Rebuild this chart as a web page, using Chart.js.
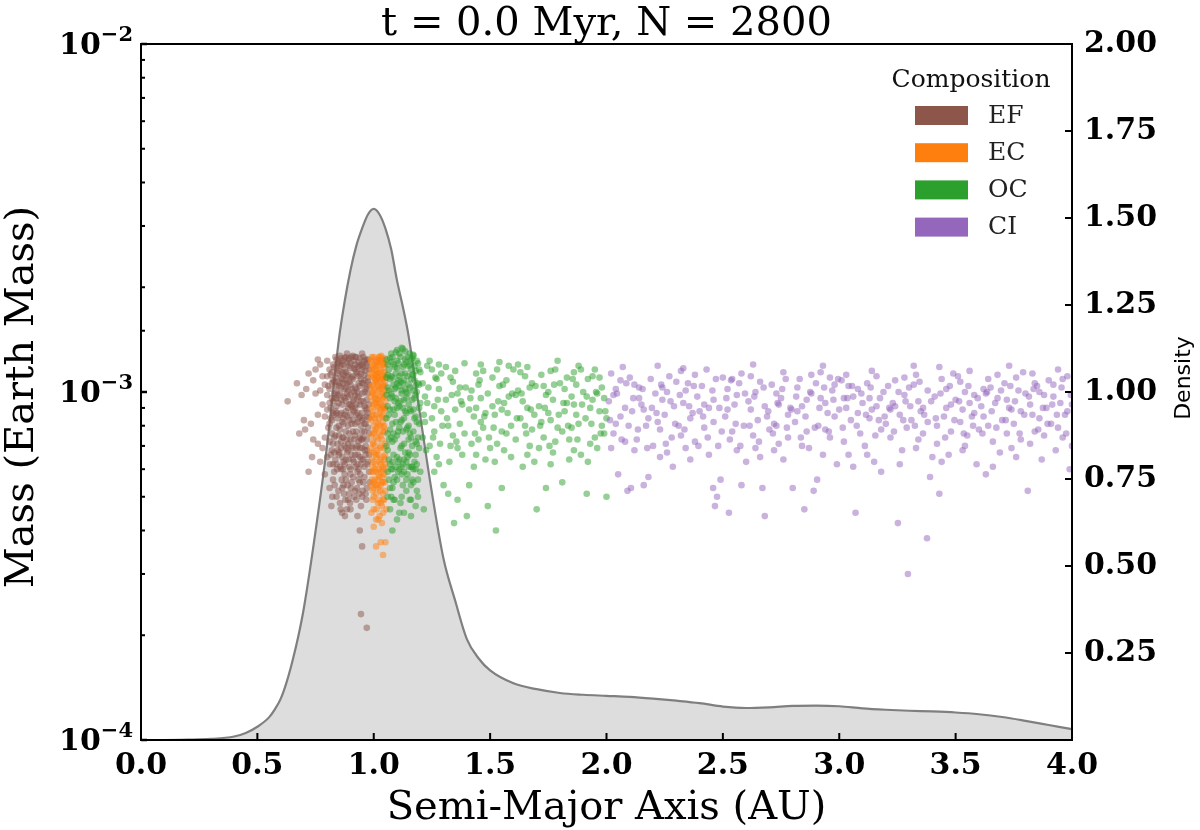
<!DOCTYPE html>
<html>
<head>
<meta charset="utf-8">
<title>t = 0.0 Myr, N = 2800</title>
<script src="https://cdn.jsdelivr.net/npm/chart.js@4.4.1/dist/chart.umd.min.js"></script>
<style>
  html, body { margin: 0; padding: 0; background: #fff; }
  #wrap { width: 1200px; height: 830px; }
</style>
</head>
<body>
<div id="wrap"><canvas id="massChart"></canvas></div>
<script>
// scatter pairs: semi-major axis (AU), mass (in units of 1e-4 Earth mass)
const MASS_UNIT = 1e-4;

const efPoints = [
  0.81,10.2, 0.84,9.1, 0.88,11.4, 0.93,8.7, 0.96,10.8, 0.82,7.6, 0.86,6.9, 0.90,9.8, 0.95,7.3, 0.97,11.9,
  0.83,11.8, 0.87,8.4, 0.91,10.9, 0.94,6.5, 0.80,8.9, 0.85,12.2, 0.89,7.1, 0.92,12.0, 0.98,9.2, 0.84,6.2,
  0.87,10.6, 0.90,6.0, 0.93,11.3, 0.96,8.1, 0.82,9.6, 0.86,11.0, 0.88,8.8, 0.91,7.7, 0.95,9.9, 0.97,6.8,
  0.81,7.2, 0.85,8.0, 0.89,10.1, 0.92,9.0, 0.94,10.4, 0.98,7.6, 0.83,10.7, 0.87,7.4, 0.90,11.7, 0.96,12.3,
  0.80,11.1, 0.84,10.0, 0.88,6.4, 0.91,8.3, 0.93,7.0, 0.95,11.6, 0.97,8.9, 0.82,8.3, 0.86,9.5, 0.89,12.4,
  0.92,10.3, 0.94,8.5, 0.96,6.1, 0.98,10.5, 0.83,6.7, 0.85,11.5, 0.88,9.4, 0.90,8.6, 0.93,9.6, 0.95,6.9,
  0.81,9.3, 0.84,7.9, 0.87,12.0, 0.91,11.1, 0.94,11.9, 0.97,9.5, 0.83,8.6, 0.86,7.2, 0.89,9.0, 0.92,6.6,
  0.95,8.3, 0.98,6.6, 0.80,9.8, 0.85,10.4, 0.88,10.8, 0.90,7.3, 0.93,10.0, 0.96,9.1, 0.82,11.4, 0.87,9.7,
  0.89,8.0, 0.92,8.1, 0.94,7.4, 0.97,10.3, 0.84,11.7, 0.86,8.7, 0.91,9.4, 0.95,10.6, 0.83,9.9, 0.88,7.7,
  0.90,10.5, 0.93,8.2, 0.96,7.7, 0.98,8.4, 0.81,8.1, 0.85,6.6, 0.87,6.3, 0.89,11.2, 0.92,11.6, 0.94,9.2,
  0.97,7.3, 0.82,10.6, 0.86,10.3, 0.90,12.1, 0.93,6.2, 0.95,8.7, 0.84,8.7, 0.88,12.6, 0.91,6.4, 0.96,11.2,
  0.85,9.3, 0.87,11.2, 0.89,6.8, 0.92,7.5, 0.94,12.5, 0.97,12.1, 0.83,7.4, 0.86,12.0, 0.90,9.2, 0.93,11.8,
  0.95,7.7, 0.98,11.6, 0.81,11.6, 0.84,9.6, 0.88,10.3, 0.91,8.9, 0.94,6.9, 0.96,10.0, 0.82,6.8, 0.87,8.1,
  0.89,9.7, 0.92,9.8, 0.95,12.0, 0.97,8.5, 0.85,7.5, 0.86,6.0, 0.90,5.8, 0.93,5.9, 0.96,5.7, 0.88,5.6,
  0.91,12.7, 0.84,12.4, 0.94,5.5, 0.98,5.9, 0.83,5.9, 0.87,5.4, 0.92,5.2, 0.95,5.0, 0.89,4.9, 0.97,5.3,
  0.815,9.0, 0.835,10.4, 0.855,7.8, 0.875,11.6, 0.895,8.3, 0.915,10.0, 0.935,7.2, 0.955,9.4, 0.975,11.0, 0.825,12.0,
  0.845,8.4, 0.865,10.9, 0.885,6.7, 0.905,9.1, 0.925,11.4, 0.945,8.0, 0.965,6.6, 0.805,7.9, 0.835,6.4, 0.855,11.9,
  0.875,9.6, 0.895,10.7, 0.915,6.3, 0.935,12.2, 0.955,10.6, 0.975,7.9, 0.825,9.4, 0.845,11.3, 0.865,8.2, 0.885,12.1,
  0.905,7.0, 0.925,8.6, 0.945,10.9, 0.965,9.0, 0.815,11.2, 0.835,8.8, 0.855,9.9, 0.875,7.0, 0.895,11.9, 0.915,8.8,
  0.935,9.7, 0.955,6.4, 0.975,9.9, 0.825,7.1, 0.845,6.8, 0.865,12.3, 0.885,9.9, 0.905,11.0, 0.925,6.9, 0.945,12.0,
  0.965,11.5, 0.805,10.4, 0.835,12.6, 0.855,6.1, 0.875,8.6, 0.895,7.6, 0.915,12.3, 0.935,10.6, 0.955,8.4, 0.975,6.3,
  0.825,10.8, 0.845,9.8, 0.865,7.4, 0.885,10.6, 0.905,8.1, 0.925,10.2, 0.945,7.3, 0.965,8.1, 0.815,6.6, 0.835,7.5,
  0.855,10.6, 0.875,12.5, 0.895,9.2, 0.915,9.5, 0.935,8.4, 0.955,11.8, 0.975,8.7, 0.825,8.7, 0.845,12.1, 0.865,9.2,
  0.885,7.3, 0.905,10.2, 0.925,12.6, 0.945,9.4, 0.965,12.4, 0.815,8.4, 0.835,11.0, 0.855,8.6, 0.875,6.2, 0.895,12.5,
  0.915,7.3, 0.935,11.1, 0.955,7.4, 0.975,12.4, 0.845,7.1, 0.865,11.4, 0.885,8.5, 0.905,6.6, 0.925,7.7, 0.945,6.2,
  0.965,10.2, 0.825,6.2, 0.855,12.7, 0.875,10.2, 0.895,6.1, 0.915,11.7, 0.935,6.0, 0.955,12.6, 0.975,10.7, 0.835,9.6,
  0.865,6.5, 0.885,11.1, 0.905,12.6, 0.925,9.2, 0.945,11.3, 0.965,7.0, 0.845,10.7, 0.875,5.8, 0.905,5.5, 0.935,5.6,
  0.955,5.5, 0.865,5.3, 0.895,5.1, 0.925,4.9, 0.855,4.8, 0.915,5.0, 0.945,4.7, 0.885,4.6, 0.965,5.1, 0.825,5.6,
  0.812,6.2, 0.832,5.4, 0.852,6.7, 0.872,5.1, 0.892,6.4, 0.912,5.7, 0.932,6.6, 0.952,5.2, 0.972,6.2, 0.822,5.0,
  0.842,6.0, 0.862,5.6, 0.882,6.9, 0.902,5.3, 0.922,6.1, 0.942,5.8, 0.962,6.8, 0.982,5.5, 0.818,4.7, 0.858,4.6,
  0.898,4.8, 0.938,5.1, 0.868,6.0, 0.908,6.9, 0.948,6.4, 0.888,5.4, 0.928,5.3, 0.968,4.9, 0.848,5.2, 0.878,4.9,
  0.63,9.4, 0.67,10.6, 0.70,8.3, 0.72,11.3, 0.705,7.8, 0.735,6.5, 0.77,6.3, 0.72,5.9, 0.78,11.1, 0.75,9.9,
  0.76,8.6, 0.74,10.8, 0.79,7.4, 0.78,9.2, 0.77,12.0, 0.73,8.1, 0.79,10.5, 0.76,7.1, 0.69,9.8, 0.71,10.2,
  0.78,6.9, 0.80,12.3, 0.79,5.8, 0.74,7.3, 0.77,10.1, 0.75,11.6, 0.80,6.5, 0.68,7.6, 0.76,12.4, 0.79,8.5,
  0.864,4.5, 0.876,4.4, 0.93,4.4, 0.94,4.0, 0.95,3.6, 0.945,2.3, 0.97,2.1, 0.90,4.6, 0.84,5.0, 0.81,5.3,
  0.885,12.9, 0.92,12.6, 0.86,12.5, 0.95,12.9
];

const ecPoints = [
  0.99,10.4, 1.01,8.2, 1.03,11.6, 1.05,7.1, 1.00,6.3, 1.02,9.5, 1.04,12.0, 0.995,8.8, 1.015,6.8, 1.035,9.9,
  1.045,5.8, 1.005,11.2, 1.025,7.6, 0.99,12.2, 1.01,10.7, 1.03,6.4, 1.05,10.1, 1.00,8.0, 1.02,11.9, 1.04,8.6,
  0.995,6.1, 1.015,9.1, 1.035,7.3, 1.045,11.4, 1.005,9.6, 1.025,12.4, 0.99,7.5, 1.01,5.9, 1.03,8.9, 1.05,8.4,
  1.00,11.0, 1.02,6.6, 1.04,10.5, 0.995,10.0, 1.015,12.0, 1.035,11.1, 1.045,6.9, 1.005,7.0, 1.025,9.3, 0.99,9.0,
  1.01,11.5, 1.03,10.3, 1.05,9.4, 1.00,12.6, 1.02,8.1, 1.04,7.7, 0.995,11.8, 1.015,7.9, 1.035,6.0, 1.045,9.7,
  1.005,5.6, 1.025,10.8, 0.99,6.7, 1.01,9.8, 1.03,12.2, 1.05,6.2, 1.00,9.2, 1.02,10.2, 1.04,5.5, 0.995,7.2,
  1.015,10.6, 1.035,8.5, 1.045,12.1, 1.005,10.9, 1.025,6.3, 0.99,11.3, 1.01,7.4, 1.03,7.0, 1.05,11.0, 1.00,7.6,
  1.02,11.4, 1.04,9.0, 0.995,9.4, 1.015,11.3, 1.035,10.4, 1.045,8.0, 1.005,8.4, 1.025,8.7, 1.01,12.4, 1.02,5.3,
  0.988,9.7, 1.008,11.9, 1.028,8.0, 1.048,10.7, 0.998,7.1, 1.018,12.3, 1.038,9.6, 0.992,11.6, 1.012,6.5, 1.032,10.9,
  1.042,7.9, 1.002,10.2, 1.022,6.0, 1.047,12.5, 0.988,8.3, 1.008,7.8, 1.028,11.3, 1.048,6.6, 0.998,12.0, 1.018,9.0,
  1.038,5.7, 0.992,6.4, 1.012,8.6, 1.032,12.7, 1.042,10.0, 1.002,6.7, 1.022,11.0, 1.047,8.9, 0.988,11.1, 1.008,9.3,
  1.028,6.9, 1.048,12.0, 0.998,10.5, 1.018,7.3, 1.038,8.2, 0.992,8.5, 1.012,12.2, 1.032,7.5, 1.042,11.7, 1.002,9.8,
  1.022,8.4, 1.047,6.4, 0.988,6.9, 1.008,10.8, 1.028,9.7, 1.048,9.0, 0.998,5.9, 1.018,10.4, 1.038,12.4, 0.992,10.1,
  1.012,11.1, 1.032,5.9, 1.042,6.5, 1.002,11.6, 1.022,12.6, 1.047,10.4, 0.988,12.4, 1.008,6.2, 1.028,12.6, 1.048,7.7,
  0.998,8.6, 1.018,5.6, 1.038,10.9, 0.992,12.6, 1.012,9.5, 1.032,9.2, 1.042,9.1, 1.002,7.7, 1.022,10.1, 1.047,11.2,
  1.008,5.4, 1.028,5.2, 0.998,5.3, 1.038,5.1, 1.018,4.8, 1.048,5.5, 0.992,5.6, 1.025,4.4, 1.012,4.6, 1.035,4.2,
  0.99,5.9, 1.00,5.5, 1.01,5.1, 1.02,5.8, 1.03,4.8, 1.04,6.1, 1.05,5.2, 0.995,4.9, 1.005,6.0, 1.015,5.4,
  1.025,5.7, 1.035,5.5, 1.045,4.9, 1.03,6.2, 1.01,6.6, 1.00,4.6, 1.02,4.3, 1.04,4.5, 0.99,5.4, 1.05,6.0,
  1.00,5.0, 1.03,5.4, 1.04,4.9, 0.99,4.5, 1.00,4.1, 1.01,4.3, 1.03,3.7, 1.05,3.7, 1.01,3.6, 1.04,3.4,
  1.055,4.6, 1.02,4.9, 1.035,4.7, 0.995,5.2
];

const ocPoints = [
  1.06,10.3, 1.08,8.1, 1.10,11.7, 1.12,7.0, 1.14,9.6, 1.16,12.4, 1.18,8.5, 1.07,6.2, 1.09,9.4, 1.11,12.9,
  1.13,10.8, 1.15,6.7, 1.17,10.1, 1.19,7.4, 1.06,12.0, 1.08,11.0, 1.10,6.5, 1.12,9.9, 1.14,7.8, 1.16,8.8,
  1.18,11.5, 1.07,8.9, 1.09,7.3, 1.11,10.4, 1.13,5.9, 1.15,11.9, 1.17,7.7, 1.20,9.3, 1.06,7.6, 1.08,12.6,
  1.10,9.0, 1.12,11.3, 1.14,12.2, 1.16,6.1, 1.18,9.8, 1.07,10.9, 1.09,11.8, 1.11,7.9, 1.13,8.4, 1.15,9.2,
  1.17,12.7, 1.19,10.6, 1.06,9.1, 1.08,6.0, 1.10,10.6, 1.12,8.3, 1.14,10.0, 1.16,10.9, 1.18,6.6, 1.07,12.5,
  1.09,8.6, 1.11,6.4, 1.13,12.0, 1.15,8.0, 1.17,8.9, 1.20,11.4, 1.06,6.8, 1.08,9.7, 1.10,7.5, 1.12,10.1,
  1.14,6.3, 1.16,11.6, 1.18,7.2, 1.07,7.8, 1.09,10.2, 1.11,9.1, 1.13,7.1, 1.15,10.5, 1.17,6.0, 1.19,12.1,
  1.06,11.2, 1.08,7.2, 1.10,12.3, 1.12,6.1, 1.14,8.7, 1.16,7.4, 1.18,10.4, 1.07,9.6, 1.09,5.7, 1.11,11.1,
  1.13,9.5, 1.15,7.3, 1.17,11.2, 1.10,13.2, 1.17,12.8, 1.12,13.4, 1.08,5.3, 1.085,4.9, 1.11,4.5, 1.08,4.0,
  1.215,4.6, 1.18,4.7, 1.14,5.2, 1.06,5.0, 1.19,5.6, 1.16,5.4,
  1.055,9.8, 1.065,11.6, 1.075,7.4, 1.085,10.5, 1.095,8.2, 1.105,12.1, 1.115,6.9, 1.125,10.6, 1.135,8.8, 1.145,11.1,
  1.155,7.6, 1.165,9.5, 1.175,11.9, 1.185,8.2, 1.195,9.0, 1.055,7.0, 1.065,8.6, 1.075,12.2, 1.085,6.6, 1.095,11.3,
  1.105,9.3, 1.115,10.7, 1.125,7.7, 1.135,12.4, 1.145,6.5, 1.155,10.3, 1.165,7.0, 1.175,8.4, 1.185,12.3, 1.195,6.9,
  1.055,12.4, 1.065,6.4, 1.075,9.9, 1.085,8.9, 1.095,6.1, 1.105,7.7, 1.115,12.6, 1.125,9.0, 1.135,6.7, 1.145,9.9,
  1.155,12.0, 1.165,11.2, 1.175,6.3, 1.185,10.0, 1.195,11.6, 1.055,8.4, 1.065,10.1, 1.075,6.0, 1.085,12.0, 1.095,9.6,
  1.105,10.8, 1.115,8.2, 1.125,11.8, 1.135,10.2, 1.145,7.9, 1.155,8.9, 1.165,6.1, 1.175,10.8, 1.185,7.1, 1.195,8.1,
  1.055,11.0, 1.065,7.3, 1.075,11.1, 1.085,7.6, 1.095,10.3, 1.105,6.3, 1.115,9.4, 1.125,6.2, 1.135,11.3, 1.145,12.6,
  1.155,6.6, 1.165,12.5, 1.175,9.6, 1.185,6.2, 1.195,10.5, 1.065,5.6, 1.085,5.5, 1.105,5.9, 1.125,5.4, 1.145,5.8,
  1.165,5.6, 1.185,5.2, 1.075,5.0, 1.115,4.8, 1.155,4.9, 1.095,13.0, 1.135,13.1, 1.075,12.9, 1.155,12.9, 1.125,13.3,
  1.06,5.9, 1.07,5.3, 1.08,6.3, 1.09,4.9, 1.10,5.6, 1.11,6.0, 1.12,5.0, 1.13,6.4, 1.14,5.6, 1.15,6.1,
  1.16,4.9, 1.17,5.5, 1.18,6.0, 1.19,5.0, 1.07,4.6, 1.13,4.5, 1.10,4.3, 1.16,4.4, 1.20,5.9, 1.12,5.8,
  1.21,10.6, 1.22,8.2, 1.23,11.9, 1.24,7.0, 1.25,11.6, 1.26,9.1, 1.27,6.5, 1.28,10.2, 1.29,8.8, 1.22,9.7,
  1.24,12.3, 1.26,7.7, 1.28,6.2, 1.21,7.4, 1.23,9.3, 1.25,8.4, 1.27,10.9, 1.29,11.3, 1.30,5.4, 1.26,5.9, 1.28,12.0,
  1.31,9.5, 1.32,5.1, 1.33,11.0, 1.34,7.5, 1.35,8.9, 1.36,4.9, 1.37,10.3, 1.38,6.6, 1.39,12.1, 1.32,8.0,
  1.34,10.7, 1.36,6.9, 1.38,9.2, 1.31,11.8, 1.33,7.0, 1.35,11.5, 1.37,8.1, 1.39,7.6, 1.345,4.2, 1.40,4.4, 1.36,9.9,
  1.41,5.4, 1.42,10.1, 1.43,8.5, 1.44,11.3, 1.45,7.3, 1.46,9.6, 1.47,11.5, 1.48,6.4, 1.49,4.7, 1.42,7.1,
  1.44,9.0, 1.46,12.0, 1.48,8.7, 1.41,8.9, 1.43,6.1, 1.45,10.5, 1.47,7.9, 1.49,9.9, 1.50,6.9, 1.44,6.6, 1.46,8.2,
  1.51,11.0, 1.52,8.6, 1.525,4.0, 1.53,7.1, 1.54,10.4, 1.55,5.3, 1.56,9.3, 1.57,7.6, 1.58,11.9, 1.59,8.0,
  1.52,6.3, 1.54,12.2, 1.56,6.8, 1.58,9.7, 1.51,9.1, 1.53,11.6, 1.55,7.7, 1.57,10.8, 1.59,6.5, 1.60,11.6, 1.55,8.9,
  1.61,7.3, 1.62,10.1, 1.63,8.4, 1.64,6.1, 1.65,11.1, 1.66,9.0, 1.67,7.0, 1.68,10.6, 1.69,8.6, 1.70,4.6,
  1.62,12.0, 1.64,9.4, 1.66,6.6, 1.68,7.8, 1.61,9.8, 1.63,11.4, 1.65,8.0, 1.67,10.3, 1.69,6.3, 1.66,11.8,
  1.71,9.1, 1.72,11.2, 1.73,7.4, 1.74,5.3, 1.75,10.0, 1.76,8.3, 1.77,6.7, 1.78,11.6, 1.79,12.3, 1.72,8.2,
  1.74,9.8, 1.76,11.5, 1.78,7.2, 1.71,6.9, 1.73,10.4, 1.75,8.7, 1.77,9.5, 1.79,7.9, 1.80,10.6, 1.76,6.2,
  1.81,5.5, 1.82,8.8, 1.83,11.0, 1.84,7.3, 1.85,9.7, 1.86,6.8, 1.87,10.5, 1.88,8.1, 1.89,11.6, 1.82,10.2,
  1.84,6.4, 1.86,9.2, 1.88,11.9, 1.81,7.7, 1.83,9.3, 1.85,7.9, 1.87,8.6, 1.89,6.6, 1.90,10.0, 1.86,11.4,
  1.91,8.4, 1.915,5.1, 1.92,10.9, 1.93,7.1, 1.94,9.5, 1.95,11.6, 1.96,6.9, 1.97,8.8, 1.98,10.3, 1.99,7.6,
  2.00,5.0, 1.92,6.3, 1.94,11.1, 1.96,9.9, 1.98,8.0, 1.93,9.0, 1.95,7.4, 1.97,11.0, 1.99,9.6, 2.00,8.4,
  1.215,8.6, 1.235,10.3, 1.255,7.4, 1.275,9.5, 1.295,8.0, 1.225,6.8, 1.265,11.0, 1.285,7.1,
  1.315,8.4, 1.335,9.8, 1.355,7.2, 1.375,9.4, 1.395,10.3, 1.325,6.3,
  1.415,9.6, 1.435,7.6, 1.455,10.8, 1.475,8.5, 1.495,7.4, 1.515,7.9, 1.535,9.4, 1.555,10.5, 1.575,8.7, 1.595,9.9,
  1.615,8.4, 1.635,9.9, 1.655,7.6, 1.675,8.9, 1.695,10.4, 1.715,8.0, 1.735,9.0, 1.755,7.0, 1.775,10.5, 1.795,8.6,
  1.815,9.3, 1.835,8.0, 1.855,10.9, 1.875,7.3, 1.895,9.2, 1.915,9.7, 1.935,8.1, 1.955,10.0, 1.975,7.6, 1.995,8.8
];

const ciPoints = [
  2.01,9.4, 2.02,11.3, 2.03,7.6, 2.04,10.2, 2.05,5.8, 2.06,8.5, 2.07,11.8, 2.08,9.0, 2.09,5.2, 2.02,6.9, 2.04,8.1, 2.06,10.8, 2.08,7.2, 2.03,9.8, 2.10,11.0,
  2.105,5.3, 2.11,8.8, 2.12,10.5, 2.13,7.3, 2.14,10.3, 2.15,9.2, 2.16,5.4, 2.17,8.0, 2.18,5.7, 2.19,10.9, 2.12,6.8, 2.14,9.6, 2.16,8.9, 2.18,8.4, 2.20,7.0,
  2.21,9.9, 2.22,11.9, 2.23,7.8, 2.24,10.3, 2.25,8.6, 2.26,6.7, 2.27,11.1, 2.285,6.1, 2.29,9.1, 2.22,8.2, 2.24,9.5, 2.26,10.0, 2.28,7.4, 2.23,6.5, 2.30,10.7,
  2.31,8.0, 2.32,11.5, 2.33,9.3, 2.34,6.9, 2.35,10.6, 2.36,8.4, 2.37,8.7, 2.38,7.2, 2.39,9.7, 2.32,7.5, 2.34,10.1, 2.36,6.4, 2.38,11.2, 2.33,11.7, 2.40,8.8,
  2.41,10.4, 2.42,7.9, 2.43,11.6, 2.44,9.0, 2.458,5.3, 2.466,4.7, 2.475,5.0, 2.46,8.2, 2.47,10.9, 2.48,7.0, 2.49,5.6, 2.42,9.2, 2.44,6.6, 2.46,9.5, 2.50,11.0,
  2.51,8.5, 2.52,10.2, 2.526,4.5, 2.53,7.3, 2.54,10.9, 2.55,9.2, 2.56,6.8, 2.57,10.6, 2.58,5.4, 2.59,8.0, 2.52,8.9, 2.54,7.7, 2.56,9.8, 2.58,11.3, 2.60,6.3,
  2.61,9.4, 2.62,11.1, 2.63,7.5, 2.64,10.0, 2.65,8.3, 2.66,6.5, 2.67,5.3, 2.68,4.4, 2.69,8.5, 2.62,8.9, 2.64,6.9, 2.66,10.7, 2.68,9.1, 2.63,12.0, 2.70,7.8,
  2.71,10.5, 2.72,8.1, 2.73,8.0, 2.74,7.1, 2.75,9.6, 2.76,6.4, 2.77,10.9, 2.78,8.6, 2.79,9.0, 2.72,6.8, 2.74,9.2, 2.76,11.4, 2.78,7.4, 2.73,9.9, 2.80,5.3,
  2.81,8.2, 2.82,10.3, 2.83,10.9, 2.84,7.0, 2.85,4.6, 2.86,9.5, 2.87,6.9, 2.88,11.2, 2.89,5.2, 2.905,5.6, 2.82,8.8, 2.84,9.1, 2.86,7.7, 2.88,9.9, 2.90,10.6,
  2.91,8.0, 2.92,11.4, 2.93,6.6, 2.94,9.3, 2.95,8.7, 2.96,7.4, 2.97,10.1, 2.98,8.5, 2.99,6.2, 2.92,9.6, 2.94,7.8, 2.96,11.0, 2.98,10.5, 2.93,11.9, 3.00,8.9,
  3.01,10.8, 3.02,7.2, 3.03,9.0, 3.04,10.4, 3.05,8.3, 3.06,6.1, 3.07,4.5, 3.08,10.2, 3.09,7.6, 3.02,9.6, 3.04,6.6, 3.06,9.7, 3.08,8.7, 3.03,11.2, 3.10,9.3,
  3.11,7.0, 3.12,10.6, 3.13,8.4, 3.14,11.5, 3.15,6.3, 3.16,9.1, 3.17,8.3, 3.18,7.8, 3.19,10.0, 3.12,6.6, 3.14,8.9, 3.16,11.1, 3.18,5.9, 3.13,9.6, 3.20,8.1,
  3.21,10.4, 3.22,7.4, 3.23,9.3, 3.24,9.1, 3.252,4.2, 3.26,8.6, 3.27,6.8, 3.28,11.0, 3.295,3.0, 3.29,7.9, 3.22,8.9, 3.24,10.8, 3.26,6.2, 3.28,9.8, 3.30,10.3,
  3.31,8.3, 3.32,10.5, 3.33,6.9, 3.34,9.4, 3.35,8.8, 3.36,7.6, 3.377,3.8, 3.38,10.1, 3.39,5.7, 3.32,11.9, 3.34,7.3, 3.36,9.0, 3.38,8.2, 3.33,11.2, 3.40,6.5,
  3.41,9.7, 3.42,7.1, 3.43,5.1, 3.44,10.9, 3.45,8.5, 3.46,9.0, 3.47,6.6, 3.48,9.2, 3.49,11.3, 3.42,8.0, 3.44,6.3, 3.46,10.2, 3.48,7.7, 3.43,11.8, 3.50,9.5,
  3.51,11.1, 3.52,8.2, 3.53,6.8, 3.54,10.0, 3.55,7.5, 3.56,9.3, 3.57,8.5, 3.58,8.7, 3.59,6.2, 3.52,10.7, 3.54,7.0, 3.56,11.5, 3.58,9.8, 3.53,8.9, 3.60,7.8,
  3.61,9.1, 3.62,10.2, 3.63,5.8, 3.64,8.0, 3.65,10.3, 3.66,7.2, 3.67,9.3, 3.68,9.6, 3.69,6.7, 3.62,8.5, 3.64,10.9, 3.66,6.1, 3.68,11.2, 3.63,9.9, 3.70,8.3,
  3.71,10.6, 3.72,7.6, 3.73,9.0, 3.74,8.9, 3.75,8.1, 3.76,6.5, 3.77,10.1, 3.78,7.3, 3.79,11.4, 3.72,9.5, 3.74,6.9, 3.76,11.0, 3.78,8.8, 3.73,11.9, 3.80,9.9,
  3.81,5.2, 3.82,9.2, 3.83,11.3, 3.84,7.7, 3.85,10.4, 3.86,8.4, 3.87,6.4, 3.88,9.8, 3.89,9.0, 3.82,7.1, 3.84,10.6, 3.86,10.0, 3.88,7.5, 3.83,8.6, 3.90,10.8,
  3.91,8.1, 3.92,10.5, 3.93,6.8, 3.94,11.6, 3.95,9.3, 3.96,7.4, 3.97,8.6, 3.98,8.8, 3.99,6.0, 3.92,9.7, 3.94,7.9, 3.96,10.9, 3.98,11.1, 4.00,9.2, 4.00,7.0,
  2.015,8.3, 2.045,9.9, 2.065,7.3, 2.085,10.6, 2.095,8.0, 2.115,9.6, 2.135,7.8, 2.155,10.2, 2.175,6.9, 2.195,9.0,
  2.215,8.7, 2.235,10.5, 2.255,7.1, 2.275,9.4, 2.295,8.1, 2.315,9.8, 2.335,7.8, 2.355,9.1, 2.375,10.4, 2.395,7.0,
  2.415,8.5, 2.435,7.4, 2.455,10.1, 2.485,9.0, 2.495,7.7, 2.515,9.6, 2.535,10.8, 2.555,8.1, 2.575,7.0, 2.595,9.9,
  2.615,8.0, 2.635,9.7, 2.655,7.2, 2.675,10.3, 2.695,8.8, 2.715,7.6, 2.735,9.3, 2.755,10.2, 2.775,7.9, 2.795,8.9,
  2.815,9.7, 2.835,7.4, 2.855,8.5, 2.875,10.0, 2.895,7.9, 2.915,9.0, 2.935,10.3, 2.955,7.7, 2.975,9.5, 2.995,10.9,
  3.015,7.9, 3.035,9.6, 3.055,10.4, 3.075,8.0, 3.095,9.9, 3.115,8.6, 3.135,10.3, 3.155,7.5, 3.175,9.6, 3.195,8.5,
  3.215,9.0, 3.235,7.7, 3.255,10.0, 3.275,8.3, 3.285,9.4, 3.305,9.1, 3.325,8.0, 3.345,10.7, 3.365,8.6, 3.395,9.4,
  3.415,8.4, 3.435,9.9, 3.455,7.4, 3.475,10.4, 3.495,8.3, 3.515,9.4, 3.535,7.6, 3.555,10.4, 3.575,8.0, 3.595,9.6,
  3.615,7.6, 3.635,10.0, 3.655,8.8, 3.675,7.9, 3.695,10.1, 3.715,8.3, 3.735,10.4, 3.755,9.4, 3.775,7.6, 3.795,8.6,
  3.815,9.7, 3.835,10.2, 3.855,7.8, 3.875,9.0, 3.895,8.1, 3.915,9.2, 3.935,8.6, 3.955,10.3, 3.975,7.6, 3.995,9.8
];

// density curve (right axis)
const kdeA = [0, 0.1, 0.2, 0.3, 0.4, 0.45, 0.5, 0.55, 0.575, 0.6, 0.625, 0.65, 0.675, 0.7, 0.75, 0.8, 0.85,
  0.875, 0.9, 0.925, 0.95, 0.975, 1.0, 1.025, 1.05, 1.075, 1.1, 1.125, 1.15, 1.2, 1.25, 1.3, 1.35, 1.4, 1.45,
  1.5, 1.6, 1.7, 1.8, 1.9, 2.0, 2.1, 2.2, 2.3, 2.4, 2.5, 2.6, 2.7, 2.8, 2.9, 3.0, 3.1, 3.2, 3.3, 3.4, 3.5,
  3.6, 3.7, 3.8, 3.9, 4.0];
const kdeDensity = [0, 0, 0.001, 0.003, 0.010, 0.020, 0.038, 0.065, 0.088, 0.118, 0.165, 0.225, 0.295, 0.38, 0.60, 0.85, 1.15,
  1.26, 1.35, 1.42, 1.47, 1.51, 1.526, 1.51, 1.47, 1.41, 1.32, 1.245, 1.16, 0.93, 0.71, 0.52, 0.40, 0.29, 0.235,
  0.20, 0.163, 0.146, 0.135, 0.130, 0.127, 0.124, 0.119, 0.113, 0.106, 0.096, 0.092, 0.094, 0.098, 0.099, 0.097, 0.091, 0.087, 0.084, 0.082, 0.079,
  0.074, 0.066, 0.055, 0.043, 0.031];

const groupNames = ['EF', 'EC', 'OC', 'CI'];
const groupColors = ['#8c564b', '#ff7f0e', '#2ca02c', '#9467bd'];
const groupFills = ['rgba(140,86,75,0.5)', 'rgba(255,127,14,0.5)', 'rgba(44,160,44,0.5)', 'rgba(148,103,189,0.5)'];
const massDecades = [-4, -3, -2];

function toPoints(flat) {
  const pts = [];
  for (let i = 0; i < flat.length; i += 2) pts.push({ x: flat[i], y: flat[i + 1] * MASS_UNIT });
  return pts;
}

const SERIF = "'DejaVu Serif', serif";

// frame, inward ticks, log tick labels, titles and the legend box
const decorations = {
  id: 'decorations',
  afterDatasetsDraw(chart) {
    const ctx = chart.ctx;
    const a = chart.chartArea;
    const xs = chart.scales.x, ys = chart.scales.y, ds = chart.scales.yd;
    ctx.save();
    ctx.strokeStyle = '#000';
    ctx.lineWidth = 2;
    ctx.strokeRect(a.left, a.top, a.right - a.left, a.bottom - a.top);

    ctx.beginPath();
    xs.ticks.forEach(t => {
      const p = xs.getPixelForValue(t.value);
      ctx.moveTo(p, a.bottom); ctx.lineTo(p, a.bottom - 7);
    });
    ds.ticks.forEach(t => {
      const p = ds.getPixelForValue(t.value);
      ctx.moveTo(a.right, p); ctx.lineTo(a.right - 7, p);
    });
    ctx.stroke();

    ys.ticks.forEach(t => {
      const lg = Math.log10(t.value);
      const major = Math.abs(lg - Math.round(lg)) < 1e-6;
      const p = ys.getPixelForValue(t.value);
      ctx.beginPath();
      ctx.lineWidth = major ? 2.5 : 2;
      ctx.moveTo(a.left, p); ctx.lineTo(a.left + (major ? 6 : 4), p);
      ctx.stroke();
    });

    // left tick labels 10^n
    ctx.fillStyle = '#000';
    ctx.textBaseline = 'middle';
    ctx.textAlign = 'right';
    massDecades.forEach(d => {
      const p = ys.getPixelForValue(Math.pow(10, d));
      const sup = '\u2212' + String(-d);
      ctx.font = 'bold 21px ' + SERIF;
      const supW = ctx.measureText(sup).width;
      const right = a.left - 8;
      ctx.fillText(sup, right, p - 8);
      ctx.font = 'bold 30px ' + SERIF;
      ctx.fillText('10', right - supW, p + 2);
    });

    // titles
    ctx.textAlign = 'center';
    ctx.textBaseline = 'alphabetic';
    ctx.font = '40px ' + SERIF;
    const cx = (a.left + a.right) / 2;
    ctx.fillText('t = 0.0 Myr, N = 2800', cx, 35);
    ctx.fillText('Semi-Major Axis (AU)', cx, 819);
    ctx.save();
    ctx.translate(33, 397);
    ctx.rotate(-Math.PI / 2);
    ctx.fillText('Mass (Earth Mass)', 0, 0);
    ctx.restore();
    ctx.save();
    ctx.translate(1190, 378);
    ctx.rotate(-Math.PI / 2);
    ctx.font = "22px 'DejaVu Sans', sans-serif";
    ctx.fillText('Density', 0, 0);
    ctx.restore();

    // legend
    ctx.font = '25px ' + SERIF;
    ctx.fillStyle = '#111';
    ctx.fillText('Composition', 971, 87);
    ctx.textAlign = 'left';
    ctx.textBaseline = 'middle';
    groupNames.forEach((name, i) => {
      const y = 106 + i * 37.2;
      ctx.fillStyle = groupColors[i];
      ctx.fillRect(915, y, 53, 19);
      ctx.fillStyle = '#222';
      ctx.fillText(name, 988, y + 10);
    });
    ctx.restore();
  }
};

const pointSets = [efPoints, ecPoints, ocPoints, ciPoints];
const datasets = pointSets.map((flat, i) => ({
  type: 'scatter',
  label: groupNames[i],
  data: toPoints(flat),
  xAxisID: 'x',
  yAxisID: 'y',
  backgroundColor: groupFills[i],
  borderWidth: 0,
  pointRadius: 3.3,
  pointHoverRadius: 3.3,
  order: 4 - i
}));
datasets.push({
  type: 'line',
  label: 'Density',
  data: kdeA.map((a, i) => ({ x: a, y: kdeDensity[i] })),
  xAxisID: 'x',
  yAxisID: 'yd',
  borderColor: '#7f7f7f',
  borderWidth: 2.2,
  backgroundColor: 'rgb(221,221,221)',
  fill: 'origin',
  pointRadius: 0,
  cubicInterpolationMode: 'monotone',
  order: 10
});

const tickFont = { family: SERIF, size: 30, weight: 'bold' };

new Chart(document.getElementById('massChart'), {
  data: { datasets: datasets },
  options: {
    responsive: true,
    maintainAspectRatio: false,
    devicePixelRatio: 1,
    animation: false,
    events: [],
    layout: { padding: { top: 44, left: 0, right: 0, bottom: 0 } },
    plugins: { legend: { display: false }, title: { display: false }, tooltip: { enabled: false } },
    scales: {
      x: {
        type: 'linear', position: 'bottom', min: 0, max: 4,
        grid: { display: false, drawTicks: false },
        border: { display: false },
        ticks: { stepSize: 0.5, font: tickFont, color: '#000', padding: 8, maxRotation: 0,
          callback: v => v.toFixed(1) },
        afterFit: s => { s.height = 90; }
      },
      y: {
        type: 'logarithmic', position: 'left', min: 1e-4, max: 1e-2,
        grid: { display: false, drawTicks: false },
        border: { display: false },
        ticks: { display: false, autoSkip: false },
        afterFit: s => { s.width = 141; }
      },
      yd: {
        type: 'linear', position: 'right', min: 0, max: 2,
        grid: { display: false, drawTicks: false },
        border: { display: false },
        ticks: { stepSize: 0.25, font: tickFont, color: '#000', padding: 12,
          callback: v => v === 0 ? '' : v.toFixed(2) },
        afterFit: s => { s.width = 128; }
      }
    }
  },
  plugins: [decorations]
});
</script>
</body>
</html>
